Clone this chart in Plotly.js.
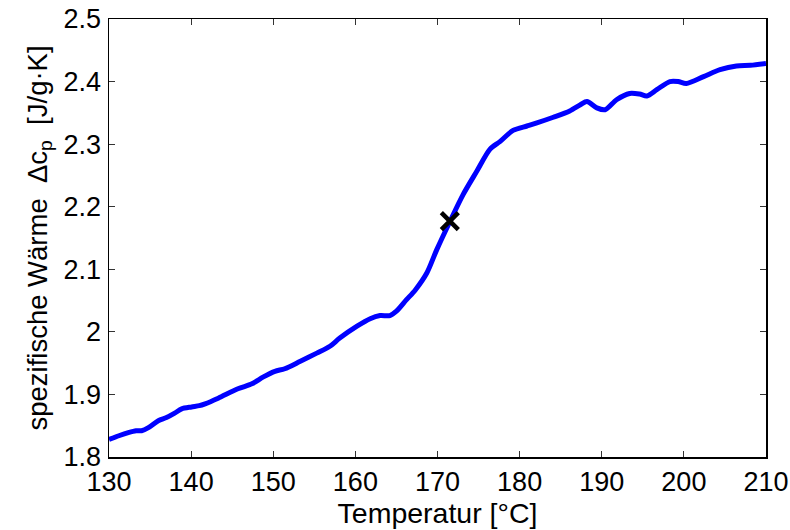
<!DOCTYPE html>
<html>
<head>
<meta charset="utf-8">
<script src="https://cdn.plot.ly/plotly-3.0.1.min.js"></script>
<style>html,body{margin:0;padding:0;background:#fff;}#chart{width:790px;height:530px;}</style>
</head>
<body>
<div id="chart"></div>
<script>
// Temperature [°C]
const temperature = [130.0, 131.2, 132.35, 133.3, 133.97, 134.8, 136.0, 137.0, 138.0, 138.85, 140.05, 141.0, 141.7, 143.3, 145.7, 147.4, 148.8, 150.2, 151.4, 153.3, 155.3, 156.9, 158.1, 160.2, 161.8, 163.0, 164.2, 165.0, 166.2, 167.3, 168.7, 169.9, 171.5, 173.1, 174.8, 176.4, 177.6, 179.2, 180.9, 182.1, 184.1, 186.1, 187.4, 188.2, 189.4, 190.4, 191.8, 193.4, 194.6, 195.5, 196.7, 198.3, 199.3, 200.3, 202.4, 204.4, 206.4, 208.1, 210.0];
// Specific heat Δcp [J/g·K]
const heatCapacity = [1.828, 1.834, 1.839, 1.842, 1.842, 1.847, 1.858, 1.863, 1.870, 1.877, 1.880, 1.882, 1.885, 1.894, 1.909, 1.917, 1.928, 1.937, 1.941, 1.953, 1.966, 1.977, 1.990, 2.009, 2.021, 2.026, 2.026, 2.033, 2.051, 2.067, 2.094, 2.131, 2.176, 2.219, 2.257, 2.292, 2.304, 2.322, 2.329, 2.334, 2.343, 2.353, 2.363, 2.368, 2.358, 2.355, 2.371, 2.381, 2.380, 2.377, 2.387, 2.400, 2.400, 2.397, 2.408, 2.419, 2.425, 2.426, 2.429];
// Marked point
const markT = [171.5];
const markCp = [2.177];
// Tick labels
const xTicks = [130, 140, 150, 160, 170, 180, 190, 200, 210];
const yTicks = [1.8, 1.9, 2.0, 2.1, 2.2, 2.3, 2.4, 2.5];
const yTickText = ['1.8', '1.9', '2', '2.1', '2.2', '2.3', '2.4', '2.5'];

const FONT = 'Arial, Liberation Sans, sans-serif';

const traces = [
  {x: temperature, y: heatCapacity, type: 'scatter', mode: 'lines',
   line: {color: '#0000ff', width: 5, shape: 'spline', smoothing: 0.8}, hoverinfo: 'skip'},
  {x: markT, y: markCp, type: 'scatter', mode: 'markers',
   marker: {symbol: 'x-thin', size: 17, color: '#000', line: {color: '#000', width: 4.5}}}
];

const axisCommon = {
  showgrid: false, zeroline: false, showline: true, mirror: 'ticks',
  linecolor: '#000', linewidth: 1.5, ticks: 'inside', ticklen: 6, tickwidth: 1,
  tickcolor: '#333', tickfont: {family: FONT, size: 27, color: '#000'}
};

const layout = {
  width: 790, height: 530,
  margin: {l: 109, r: 24, t: 19, b: 73},
  paper_bgcolor: '#fff', plot_bgcolor: '#fff',
  showlegend: false,
  font: {family: FONT, color: '#000', size: 27},
  xaxis: Object.assign({}, axisCommon, {
    range: [130, 210], tickvals: xTicks, ticklabelstandoff: 0,
    title: {text: 'Temperatur [°C]', font: {family: FONT, size: 28.5, color: '#000'}, standoff: 0}
  }),
  yaxis: Object.assign({}, axisCommon, {
    range: [1.8, 2.5], tickvals: yTicks, ticktext: yTickText, ticklabelstandoff: 1,
    title: {text: 'spezifische Wärme  Δc<sub>p</sub>  [J/g·K]', font: {family: FONT, size: 27.5, color: '#000'}, standoff: 8}
  })
};

Plotly.newPlot('chart', traces, layout, {displayModeBar: false, staticPlot: true});
</script>
</body>
</html>
